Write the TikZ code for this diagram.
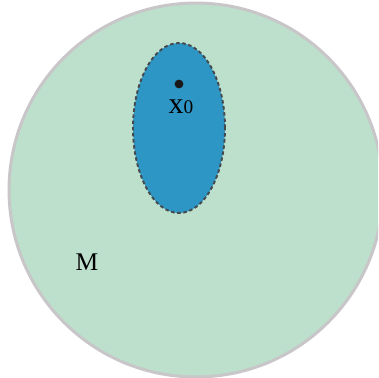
\documentclass[tikz,border=0pt]{standalone}
\usepackage{fontspec}
\setmainfont{Liberation Serif}
\definecolor{manifold}{HTML}{BDE0CC}
\definecolor{rimgray}{HTML}{C8C6C8}
\definecolor{nbhd}{HTML}{2E96C4}
\definecolor{dashgray}{HTML}{454A4E}
\begin{document}
\begin{tikzpicture}[x=0.02cm,y=-0.02cm]
\useasboundingbox (0,0) rectangle (378,378);
\clip (0,0) rectangle (378,378);
% Manifold M
\draw[line width=0.06cm, draw=rimgray, fill=manifold] (196,190) circle (3.74cm);
% Neighbourhood of x0
\draw[line width=1.1pt, draw=dashgray, dash pattern=on 2pt off 1.5pt, fill=nbhd]
    (179,128) ellipse (0.92cm and 1.7cm);
\fill[black!90] (179,84) circle (2.5pt);
\node[font=\fontsize{17}{19}\selectfont] (x0) at (181,107) {x{\fontsize{11}{12}\selectfont 0}};
\node[font=\fontsize{14.5}{16}\selectfont] (M) at (87,262) {M};
\end{tikzpicture}
\end{document}
